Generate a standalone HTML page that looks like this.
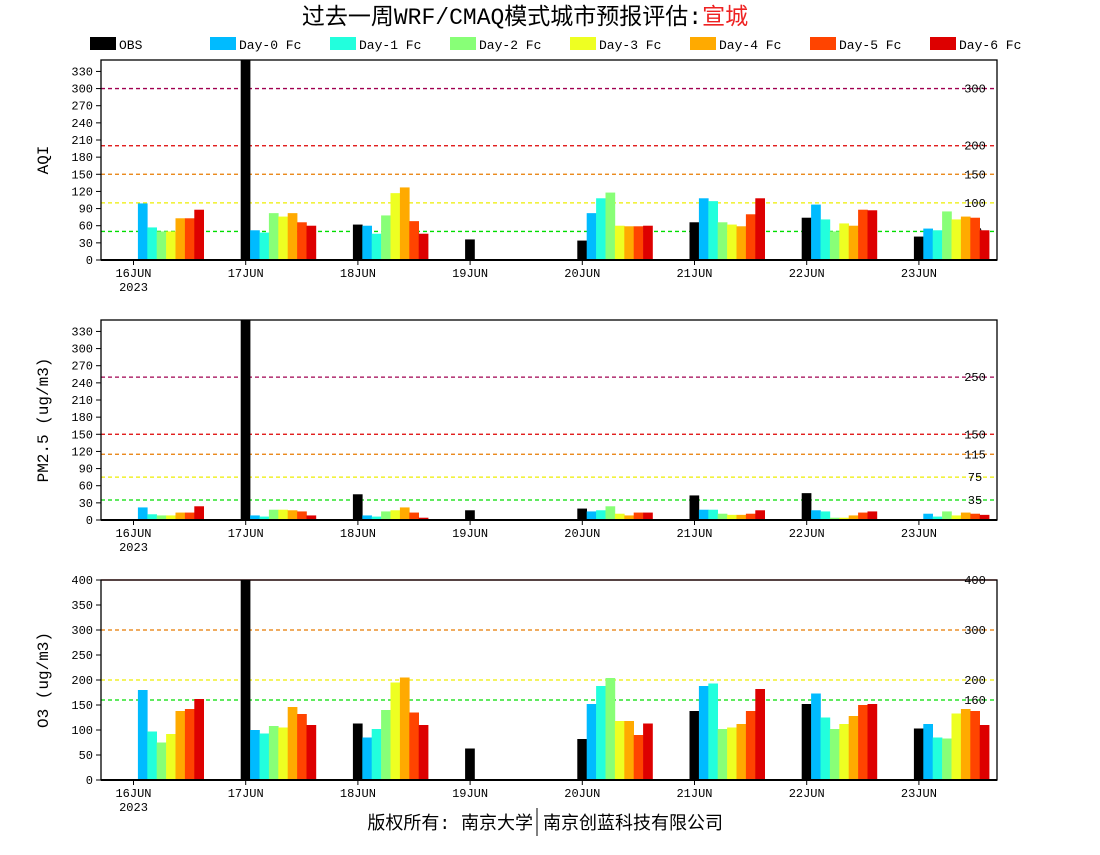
<!DOCTYPE html>
<html><head><meta charset="utf-8"><style>
body{margin:0;background:#fff;width:1100px;height:850px;overflow:hidden}
svg text{font-family:"Liberation Mono","Noto Sans CJK SC",monospace}
</style></head><body>
<svg id="c" width="1100" height="850" xmlns="http://www.w3.org/2000/svg"></svg>
<script>
const days=["16JUN","17JUN","18JUN","19JUN","20JUN","21JUN","22JUN","23JUN"];
const seriesNames=["OBS","Day-0 Fc","Day-1 Fc","Day-2 Fc","Day-3 Fc","Day-4 Fc","Day-5 Fc","Day-6 Fc"];
const colors=["#000000","#00bbff","#22ffdd","#88ff77","#eeff22","#ffaa00","#ff4400","#dd0000"];
// values per day: [OBS, D0..D6], null = missing
const aqiVals=[
[null,99,57,50,50,73,73,88],[400,52,48,82,76,82,66,60],[62,60,46,78,117,127,68,46],[36,null,null,null,null,null,null,null],
[34,82,108,118,60,59,59,60],[66,108,103,66,62,59,80,108],[74,97,71,50,64,60,88,87],[41,55,52,85,71,76,74,52]];
const pmVals=[
[null,22,10,8,8,13,13,24],[400,8,6,18,18,17,15,8],[45,8,6,15,17,22,13,4],[17,null,null,null,null,null,null,null],
[20,15,17,24,11,8,13,13],[43,18,18,11,9,9,11,17],[47,17,15,4,4,8,13,15],[null,11,6,15,8,13,11,9]];
const o3Vals=[
[null,180,97,75,92,138,142,162],[450,100,93,108,105,146,132,110],[113,85,102,140,195,205,135,110],[63,null,null,null,null,null,null,null],
[82,152,188,204,118,118,90,113],[138,188,193,102,105,112,138,182],[152,173,125,102,112,128,150,152],[103,112,85,83,133,142,138,110]];
const aqiTicks=[0,30,60,90,120,150,180,210,240,270,300,330];
const o3Ticks=[0,50,100,150,200,250,300,350,400];
const aqiRefs=[[50,"#00dd00"],[100,"#eeee00"],[150,"#e87b00"],[200,"#dd0000"],[300,"#a00050"]];
const pmRefs=[[35,"#00dd00"],[75,"#eeee00"],[115,"#e87b00"],[150,"#dd0000"],[250,"#a00050"]];
const o3Refs=[[160,"#00dd00"],[200,"#eeee00"],[300,"#e87b00"],[400,"#dd0000"]];

const svg=document.getElementById('c');const NS="http://www.w3.org/2000/svg";
function el(t,a,p){const e=document.createElementNS(NS,t);for(const k in a)e.setAttribute(k,a[k]);(p||svg).appendChild(e);return e;}
function txt(s,a,p){const e=el('text',a,p);e.textContent=s;return e;}
const X0=101,X1=997,dayStep=112.2,firstTick=133.5,barW=9.4;
function xDay(i){return firstTick+i*dayStep;}
function panel(name,top,ymax,ticks,vals,refs,ylabel){
  const g=el('g',{});
  
  
  const bot=top+200;const y=v=>bot-Math.min(v,ymax)/ymax*200;
  refs.forEach(r=>{
    const l=el('line',{x1:X0,x2:X1,y1:y(r[0]),y2:y(r[0]),stroke:r[1],'stroke-width':1.3,'stroke-dasharray':r[0]==ymax?'':'4,3'},g);
    
    
    const t=txt(String(r[0]),{x:975,y:y(r[0])+4,'font-size':12,'text-anchor':'middle',fill:'#000'},g);
    
    
  });
  vals.forEach((d,i)=>d.forEach((v,k)=>{
    if(v==null)return;
    const r=el('rect',{x:xDay(i)-5+k*barW,y:y(v),width:barW+0.3,height:bot-y(v),fill:colors[k]},g);
    
    
  }));
  el('rect',{x:X0,y:top,width:X1-X0,height:200,fill:'none',stroke:'#000','stroke-width':1.3},g);
  el('line',{x1:X0,x2:X1,y1:bot,y2:bot,stroke:'#000','stroke-width':2},g);
  ticks.forEach(t=>{
    el('line',{x1:X0-5,x2:X0,y1:y(t),y2:y(t),stroke:'#000'},g);
    const tl=txt(String(t),{x:X0-8,y:y(t)+4,'font-size':12,'text-anchor':'end'},g);
    
    
  });
  days.forEach((d,i)=>{
    el('line',{x1:xDay(i),x2:xDay(i),y1:bot,y2:bot+5,stroke:'#000'},g);
    const tl=txt(d,{x:xDay(i),y:bot+17,'font-size':12,'text-anchor':'middle'},g);
    
    
  });
  txt('2023',{x:xDay(0),y:bot+31,'font-size':12,'text-anchor':'middle'},g);
  const yl=txt(ylabel,{x:0,y:0,'font-size':16,'text-anchor':'middle',transform:`translate(48,${top+100}) rotate(-90)`,'font-family':'Liberation Serif, serif'},g);
  
  
}
panel('aqi',60,350,aqiTicks,aqiVals,aqiRefs,'AQI');
panel('pm25',320,350,aqiTicks,pmVals,pmRefs,'PM2.5 (ug/m3)');
panel('o3',580,400,o3Ticks,o3Vals,o3Refs,'O3 (ug/m3)');
// title
const tt=el('text',{x:525,y:24,'font-size':23,'text-anchor':'middle','font-family':'Liberation Serif, Noto Serif CJK SC, serif'});


tt.innerHTML='过去一周WRF/CMAQ模式城市预报评估:<tspan fill="#ee2222">宣城</tspan>';
// legend
const lx=[90,210,330,450,570,690,810,930];
seriesNames.forEach((n,k)=>{
  const g=el('g',{});
  
  
  el('rect',{x:lx[k],y:37,width:26,height:13,fill:colors[k]},g);
  txt(n,{x:lx[k]+29,y:49,'font-size':13},g);
});
// footer
const ft=txt('版权所有: 南京大学',{x:533,y:829,'font-size':18,'text-anchor':'end','font-family':'Liberation Serif, Noto Serif CJK SC, serif'});


el('line',{x1:537,x2:537,y1:808,y2:836,stroke:'#000'});
const ft2=txt('南京创蓝科技有限公司',{x:543,y:829,'font-size':18,'font-family':'Liberation Serif, Noto Serif CJK SC, serif'});


</script>
</body></html>
